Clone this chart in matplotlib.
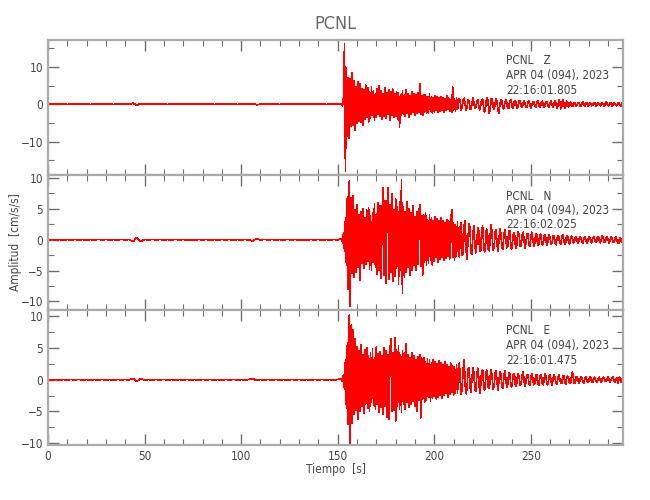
import numpy as np
import matplotlib
matplotlib.use('Agg')
import matplotlib.pyplot as plt
from matplotlib.ticker import MultipleLocator

# Estación y componentes
station = 'PCNL'
components = ['Z', 'N', 'E']
date_label = 'APR 04 (094), 2023'
start_times = ['22:16:01.805', '22:16:02.025', '22:16:01.475']

# Ruido previo (muestras cada 2 s desde 0 s)
z_quiet = [0.03, -0.04, 0.05, -0.03, 0.04, -0.05, 0.03, -0.04, 0.05, -0.03, 0.04, -0.05, 0.03,
           -0.04, 0.05, -0.03, 0.04, -0.05, 0.03, -0.04, 0.05, -0.03, 0.25, -0.3, 0.2, -0.05,
           0.03, -0.04, 0.05, -0.03, 0.04, -0.05, 0.03, -0.04, 0.05, -0.03, 0.04, -0.05, 0.03,
           -0.04, 0.05, -0.03, 0.04, -0.05, 0.03, -0.04, 0.05, -0.03, 0.04, -0.05, 0.03, -0.04,
           0.05, 0.15, -0.15, 0.03, -0.04, 0.05, -0.03, 0.04, -0.05, 0.03, -0.04, 0.05, -0.03,
           0.04, -0.05, 0.03, -0.04, 0.05, -0.03, 0.04, -0.05, 0.03, -0.04, 0.05]
n_quiet = [-0.04, 0.05, -0.03, 0.04, -0.05, 0.03, -0.04, 0.05, -0.03, 0.04, -0.05, 0.03, -0.04,
           0.05, -0.03, 0.04, -0.05, 0.03, -0.04, 0.05, -0.03, 0.04, -0.3, 0.35, -0.25, 0.05,
           -0.04, 0.05, -0.03, 0.04, -0.05, 0.03, -0.04, 0.05, -0.03, 0.04, -0.05, 0.03, -0.04,
           0.05, -0.03, 0.04, -0.05, 0.03, -0.04, 0.05, -0.03, 0.04, -0.05, 0.03, -0.04, 0.05,
           -0.03, -0.2, 0.2, -0.04, 0.05, -0.03, 0.04, -0.05, 0.03, -0.04, 0.05, -0.03, 0.04,
           -0.05, 0.03, -0.04, 0.05, -0.03, 0.04, -0.05, 0.03, -0.04, 0.05, -0.03]
e_quiet = [0.04, -0.03, 0.05, -0.04, 0.03, -0.05, 0.04, -0.03, 0.05, -0.04, 0.03, -0.05, 0.04,
           -0.03, 0.05, -0.04, 0.03, -0.05, 0.04, -0.03, 0.05, -0.04, 0.2, -0.25, 0.15, -0.04,
           0.03, -0.05, 0.04, -0.03, 0.05, -0.04, 0.03, -0.05, 0.04, -0.03, 0.05, -0.04, 0.03,
           -0.05, 0.04, -0.03, 0.05, -0.04, 0.03, -0.05, 0.04, -0.03, 0.05, -0.04, 0.03, -0.05,
           0.04, 0.15, -0.12, 0.03, -0.05, 0.04, -0.03, 0.05, -0.04, 0.03, -0.05, 0.04, -0.03,
           0.05, -0.04, 0.03, -0.05, 0.04, -0.03, 0.05, -0.04, 0.03, -0.05, 0.04]

# Señal del sismo (muestras cada 0.5 s desde 152 s)
z_event = [
    0.1, -0.4, 1.8, 16.2, -18.0, 9.8, -8.5, 7.2, -9.2, 6.8, -6.0, 8.5, -5.5, 6.2, -7.0, 4.8, -5.2, 6.0, -4.5, 5.5,
    -4.8, 4.2, -5.6, 3.9, -4.0, 5.1, -3.6, 4.4, -4.9, 3.2, -3.8, 4.6, -3.0, 3.7, -4.2, 2.9, -3.5, 4.1, -2.8, 4.9,
    -3.3, 3.6, -4.0, 2.7, -3.1, 4.3, -3.8, 3.0, -2.6, 3.9, -4.4, 3.3, -2.9, 4.0, -3.5, 2.8, -3.2, 3.4, -4.1, 3.1,
    -6.2, 2.6, -3.0, 3.5, -2.7, 2.4, -3.3, 3.8, -2.5, 2.9, -3.6, 2.3, -2.8, 3.2, -2.2, 2.7, -3.0, 2.5, -2.4, 3.0,
    -2.1, 5.4, -2.6, 2.2, -2.9, 2.6, -2.0, 2.4, -2.5, 1.9, -2.3, 2.8, -1.8, 2.1, -2.4, 1.7, -2.0, 2.3, -1.6, 2.0,
    -2.2, 1.6, -1.9, 2.1, -1.5, 1.8, -2.0, 1.5, -1.7, 2.2, -1.4, 1.6, -1.8, 1.3, -2.1, 4.6, -1.5, 1.4, -1.9, 1.7,
    -1.3, 0.2, 1.5, 0.4, -1.6, -0.5, 1.2, 1.6, -0.2, -1.5, -0.8, 1.1, 0.9, -1.2, -1.4, 0.3, 1.6, 0.6, -1.1, -0.9,
    0.8, 1.3, -0.4, -1.5, -0.3, 1.1, 1.4, -0.6, -2.2, -1.0, 1.2, 1.7, -0.5, -2.4, -0.8, 1.5, 1.3, -0.7, -1.4, 0.2,
    1.4, 0.6, -1.8, -2.3, 0.1, 1.3, 0.7, -1.0, -1.2, 0.4, 1.1, 0.3, -0.9, -1.0, 0.5, 1.2, 0.2, -1.1, -0.6, 0.8,
    1.0, -0.3, -1.0, -0.2, 0.9, 0.7, -0.6, -0.9, 0.3, 1.0, 0.1, -0.8, -0.7, 0.5, 0.9, -0.2, -1.0, -0.3, 0.7, 0.6,
    -0.5, -0.8, 0.3, 0.9, 0.2, -0.7, -0.6, 0.5, 0.8, -0.3, -0.9, 0.1, 0.7, 0.4, -0.6, -0.7, 0.5, 0.8, -0.2, -0.8,
    0.2, 0.9, 0.1, -1.0, -0.5, 1.1, 0.6, -1.2, -0.4, 1.3, 0.3, -1.1, -0.6, 0.8, 0.5, -0.7, -0.4, 0.6, 0.3, -0.5,
    -0.4, 0.5, 0.4, -0.6, -0.2, 0.5, 0.3, -0.4, -0.5, 0.3, 0.6, -0.2, -0.5, 0.2, 0.4, -0.4, -0.3, 0.5, 0.2, -0.4,
    -0.3, 0.4, 0.5, -0.3, -0.5, 0.2, 0.4, -0.2, -0.4, 0.3, 0.5, -0.1, -0.5, 0.2, 0.6, 0.1, -0.4, -0.3, 0.4, 0.3,
    -0.4, -0.2, 0.5, 0.2, -0.3, -0.4, 0.3, 0.4, -0.2, -0.5, 0.2, 0.3]
n_event = [
    0.2, -0.5, 1.2, -1.8, 3.5, -4.2, 7.0, -8.0, 9.5, -10.8, 6.8, -5.5, 7.2, -6.0, 4.8, -5.2, 5.6, -4.4, 4.0, -6.5,
    4.5, -3.8, 5.0, -4.6, 3.6, -4.0, 4.8, -3.5, 5.2, -4.8, 3.9, -5.0, 4.4, -3.7, 5.8, -4.5, 4.2, -5.6, 6.0, -4.9,
    5.5, -6.2, 4.8, 8.4, -5.8, 6.3, -7.0, 5.1, 8.5, -6.4, 5.7, -5.2, 7.4, -6.8, 4.9, -5.9, 6.6, -4.7, 5.3, -7.2,
    6.1, -5.0, 9.8, -8.7, 5.4, -6.0, 4.6, -5.3, 6.2, -4.4, 5.0, -5.8, 4.3, -4.9, 5.5, -4.1, 3.8, -5.0, 4.6, -3.9,
    4.2, 5.7, -4.3, 3.9, -5.7, 4.0, -3.6, 4.4, -4.1, 3.3, -3.8, 4.0, -3.4, 3.6, -4.2, 3.1, -3.5, 3.8, -2.9, 3.4,
    -3.6, 3.0, -3.2, 3.5, -2.8, 3.1, -3.4, 2.7, -3.0, 3.3, -2.6, 3.0, -3.1, 2.5, 4.9, -2.9, 2.8, -3.3, 2.4, -2.7,
    2.9, -2.3, -2.8, 2.2, 2.7, -2.5, -2.0, 2.4, 3.1, -1.9, -3.1, 0.5, 2.6, 1.8, -2.2, -2.4, 1.0, 2.3, -0.8, -2.1,
    -0.6, 2.0, 1.5, -1.9, -1.7, 1.2, 2.2, -0.4, -2.0, -1.1, 1.8, 1.4, -1.6, -1.8, 0.9, 2.4, 0.3, -1.7, -1.2, 1.3,
    1.6, -0.8, -1.9, 0.2, 1.7, 1.0, -1.4, -1.5, 0.6, 1.6, 0.4, -1.3, -1.1, 1.2, 1.5, -0.5, -1.6, -0.3, 1.1, 1.2,
    -0.9, -1.4, 0.3, 1.3, 0.6, -1.1, -1.0, 0.8, 1.2, -0.2, -1.3, -0.5, 1.0, 0.9, -0.7, -1.1, 0.4, 1.2, 0.1, -1.0,
    -0.6, 0.9, 0.8, -0.7, -0.9, 0.5, 1.0, -0.2, -0.8, -0.4, 0.7, 0.8, -0.5, -0.9, 0.3, 0.8, 0.2, -0.7, -0.5, 0.6,
    0.7, -0.4, -0.8, 0.2, 0.7, 0.4, -0.6, -0.7, 0.4, 0.8, 0.0, -0.7, -0.4, 0.6, 0.6, -0.3, -0.7, 0.2, 0.6, 0.2,
    -0.5, -0.4, 0.4, 0.5, -0.2, -0.6, 0.1, 0.5, 0.3, -0.4, -0.5, 0.3, 0.5, -0.1, -0.5, -0.2, 0.4, 0.4, -0.3, -0.5,
    0.2, 0.5, 0.0, -0.4, -0.3, 0.4, 0.4, -0.2, -0.5, 0.1, 0.6, 0.2, -0.4, -0.4, 0.3, 0.5, -0.1, -0.5, -0.2, 0.4,
    0.3, -0.3, -0.4, 0.2, 0.5, -0.1, -0.4, -0.6, 0.3, 0.2, -0.4, 0.1]
e_event = [
    0.1, -0.3, 0.8, -1.5, 3.2, -4.5, 5.8, -7.0, 10.2, -10.0, 8.6, -6.8, 7.9, -5.4, 6.4, -4.8, 5.2, -6.2, 4.6, -5.0,
    5.5, -4.2, 4.0, -5.3, 4.7, -3.8, 5.0, -4.5, 3.7, -4.9, 4.3, -3.6, 4.8, -4.0, 3.5, -4.6, 5.2, -3.9, 4.1, -5.1,
    4.4, -4.3, 3.8, -5.5, 5.0, -4.1, 4.6, -5.9, 3.9, -6.2, 4.4, 6.5, -5.0, 4.2, -4.8, 6.6, -6.5, 4.7, -4.2, 5.3,
    -4.6, 3.9, -5.1, 4.5, -3.8, 4.2, -4.7, 5.7, -3.6, 4.0, -4.4, 3.5, -3.9, 4.3, -3.4, 3.7, -4.1, 3.2, -5.0, 3.6,
    -3.3, 3.9, -6.0, 3.4, -3.0, 3.5, -3.6, 2.9, -3.2, 3.3, -2.8, 3.1, -3.4, 2.7, -2.9, 3.2, -2.6, 2.8, -3.0, 2.5,
    -2.7, 3.0, -2.4, 2.6, -2.9, 2.3, -2.5, 2.8, -2.2, 2.4, -2.7, 2.1, -2.3, 2.6, -2.0, 2.2, -2.5, 2.0, -2.1, 2.4,
    -2.2, 1.4, 2.6, -0.5, -2.3, -0.8, 1.9, 3.1, -0.9, -2.2, -1.2, 1.6, 1.9, -1.0, -2.0, 0.2, 1.9, 1.1, -1.5, -1.8,
    0.6, 1.8, 0.4, -2.1, -1.0, 1.2, 1.6, -0.6, -1.7, -0.3, 1.5, 1.1, -1.3, -1.4, 0.7, 1.6, 0.2, -1.5, -0.9, 1.1,
    1.4, -0.5, -1.6, -0.1, 1.3, 0.9, -1.0, -1.3, 0.4, 1.4, 0.3, -1.2, -0.8, 0.9, 1.1, -0.4, -1.2, -0.2, 1.0, 0.8,
    -0.8, -1.0, 0.4, 1.0, 0.2, -0.9, -0.6, 0.8, 1.3, -0.3, -1.0, -0.2, 0.8, 0.7, -0.6, -0.9, 0.3, 0.9, 0.2, -0.8,
    -0.5, 0.7, 0.8, -0.4, -0.9, 0.1, 0.8, 0.5, -0.7, -0.8, 0.4, 0.9, 0.0, -0.8, -0.5, 0.6, 0.7, -0.3, -0.8, 0.1,
    0.7, 0.4, -0.6, -0.7, 0.3, 0.8, 0.1, -0.6, -0.5, 0.5, 0.6, -0.3, -0.7, 0.2, 0.6, 0.3, -0.5, -0.6, 0.4, 1.2,
    0.3, -0.6, -0.5, 0.4, 0.5, -0.2, -0.6, 0.0, 0.5, 0.3, -0.4, -0.5, 0.3, 0.5, -0.1, -0.4, -0.2, 0.4, 0.3, -0.3,
    -0.4, 0.2, 0.4, -0.1, -0.4, -0.2, 0.3, 0.4, -0.2, -0.4, 0.1, 0.4, 0.2, -0.3, -0.3, 0.2, 0.4, -0.1, -0.4, 0.0,
    0.3, 0.5, -0.2, -0.4, 0.1, 0.3, -0.5, 0.2, 0.4, -0.4, -0.1, 0.2]

quiet_dt = 2.0
event_t0 = 152.0
event_dt = 0.5

# Límites de cada panel
y_limits = [(-18.95, 17.2), (-11.4, 10.5), (-10.3, 11.0)]
y_major = [10, 5, 5]
x_max = 297.7

quiet_list = [z_quiet, n_quiet, e_quiet]
event_list = [z_event, n_event, e_event]

spine_color = '#ababab'
text_color = '#454545'
font = dict(family='DejaVu Sans', stretch='condensed')

fig = plt.figure(figsize=(6.5, 5.0), dpi=100)
left, width = 48 / 650, (623 - 48) / 650
panel_h = 135 / 500
bottoms = [1 - 175 / 500, 1 - 310 / 500, 1 - 445 / 500]

axes = []
for i in range(3):
    ax = fig.add_axes([left, bottoms[i], width, panel_h])
    axes.append(ax)

    q = np.array(quiet_list[i])
    ev = np.array(event_list[i])
    t_q = np.arange(len(q)) * quiet_dt
    t_ev = event_t0 + np.arange(len(ev)) * event_dt
    t = np.concatenate([t_q, t_ev])
    y = np.concatenate([q, ev])
    ax.plot(t, y, color='#ff0000', linewidth=0.5, antialiased=False)

    ax.set_xlim(0, x_max)
    ax.set_ylim(*y_limits[i])

    ax.xaxis.set_major_locator(MultipleLocator(50))
    ax.xaxis.set_minor_locator(MultipleLocator(10))
    ax.yaxis.set_major_locator(MultipleLocator(y_major[i]))
    ax.yaxis.set_minor_locator(MultipleLocator(y_major[i] / 2))

    ax.tick_params(which='both', direction='in', top=True, right=True,
                   colors='#6e6e6e', labelcolor=text_color, labelsize=8.5)
    ax.tick_params(which='major', length=8, width=1.0)
    ax.tick_params(which='minor', length=4, width=0.8)
    if i < 2:
        ax.tick_params(labelbottom=False)
    for lab in ax.get_xticklabels() + ax.get_yticklabels():
        lab.set_fontstretch('condensed')

    for sp in ax.spines.values():
        sp.set_color(spine_color)
        sp.set_linewidth(1.6)

    # Etiqueta de la componente
    txt_x = 0.797
    lines = [f'{station}   {components[i]}', date_label, start_times[i]]
    for k, line in enumerate(lines):
        ax.text(txt_x, 1 - (21 + 14.5 * k) / 135, line, transform=ax.transAxes,
                ha='left', va='center', fontsize=8.5, color=text_color, **font)

axes[0].set_title(station, fontsize=13, color='#6a6a6a', pad=8, **font)
axes[1].set_ylabel('Amplitud  [cm/s/s]', fontsize=8.5, color=text_color, **font)
axes[1].yaxis.set_label_coords(-0.045, 0.5)
axes[2].set_xlabel('Tiempo  [s]', fontsize=8.5, color=text_color, labelpad=0, **font)

plt.savefig('out.png', dpi=100)
